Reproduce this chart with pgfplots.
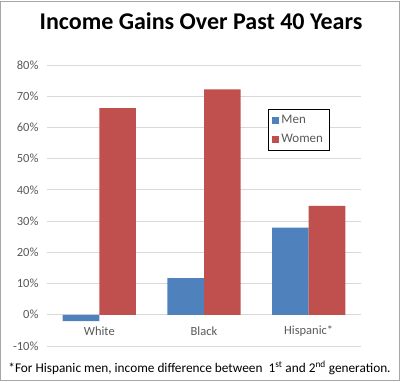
\documentclass[border=0pt]{standalone}
\usepackage{fontspec}
\setmainfont{Carlito}
\usepackage{pgfplots}
\pgfplotsset{compat=1.18}
\definecolor{menblue}{HTML}{4F81BD}
\definecolor{womenred}{HTML}{C0504D}
\definecolor{gridgray}{HTML}{D9D9D9}
\definecolor{ticktext}{HTML}{595959}
\definecolor{bordergray}{HTML}{A6A6A6}
\begin{document}
\begin{tikzpicture}[x=1bp,y=1bp]
\useasboundingbox (0,0) rectangle (402,383);
\draw[bordergray, line width=1bp] (0.8,2.3) rectangle (399.5,381);
\begin{axis}[
  at={(47bp,37bp)}, anchor=south west,
  scale only axis, width=314bp, height=281bp,
  xmin=-0.5, xmax=2.5, ymin=-10, ymax=80,
  ybar=0pt, bar width=0.35,
  xtick={0,1,2}, xticklabels={White,Black,Hispanic*},
  ytick={-10,0,...,80},
  yticklabel={\pgfmathprintnumber{\tick}\%},
  /pgf/number format/assume math mode=true,
  major tick length=0pt,
  axis line style={draw=none},
  ymajorgrids, grid style={gridgray, line width=0.9bp},
  tick label style={font=\fontsize{12.5bp}{14bp}\selectfont, text=ticktext},
  yticklabel style={xshift=-5bp},
  xticklabel style={anchor=center, yshift=15bp},
  legend style={at={(0.704,0.843)}, anchor=north west, draw=black, line width=0.8bp,
    font=\fontsize{13bp}{15bp}\selectfont, text=ticktext, inner xsep=4bp, inner ysep=4bp,
    row sep=5bp, cells={anchor=west}},
  legend cell align=left,
  legend image code/.code={\fill[#1, draw=none] (0bp,-3.5bp) rectangle (7bp,3.5bp);},
]
\addplot[fill=menblue, draw=none] coordinates {(0,-2) (1,11.7) (2,27.9)};
\addplot[fill=womenred, draw=none] coordinates {(0,66.2) (1,72.2) (2,34.9)};
\legend{Men,Women}
\end{axis}
\node[font=\fontsize{24bp}{28bp}\selectfont\bfseries] at (201,362) {Income Gains Over Past 40 Years};
\node[font=\fontsize{13.3bp}{16bp}\selectfont] at (199.5,15) {*For Hispanic men, income difference between\ \ 1\textsuperscript{st} and 2\textsuperscript{nd} generation.};
\end{tikzpicture}
\end{document}
